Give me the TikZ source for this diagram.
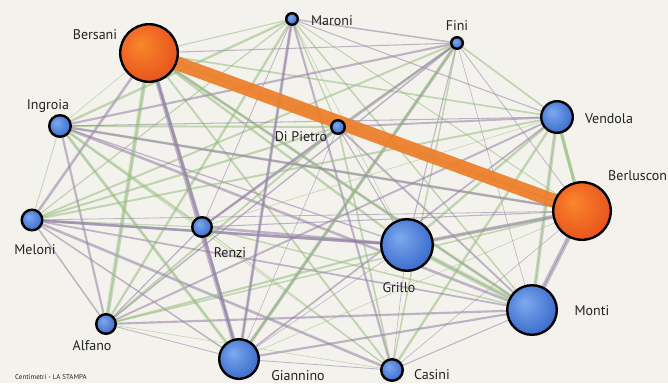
\documentclass[tikz,border=0pt]{standalone}
\usepackage{fontspec}
\setmainfont{PT Sans}
\definecolor{paper}{RGB}{244,242,236}
\definecolor{egreen}{RGB}{150,188,128}
\definecolor{epurple}{RGB}{145,128,165}
\definecolor{orangeedge}{RGB}{238,125,40}
\definecolor{bluein}{RGB}{125,170,240}
\definecolor{blueout}{RGB}{45,95,195}
\definecolor{orin}{RGB}{250,135,45}
\definecolor{orout}{RGB}{225,60,20}
\definecolor{labelc}{RGB}{35,35,35}
\pgfdeclareradialshading{blueshade}{\pgfpoint{-8bp}{8bp}}{color(0bp)=(bluein); color(30bp)=(blueout!85!bluein); color(50bp)=(blueout)}
\pgfdeclareradialshading{redshade}{\pgfpoint{-8bp}{8bp}}{color(0bp)=(orin); color(30bp)=(orout!70!orin); color(50bp)=(orout)}
\pgfdeclarelayer{paperlayer}
\pgfdeclarelayer{edgelayer}
\pgfsetlayers{paperlayer,edgelayer,main}
\begin{document}
\begin{tikzpicture}[x=1pt,y=-1pt,
  ball/.style={circle,draw=black,line width=2.4pt,inner sep=0pt,minimum size=#1},
  blueball/.style={ball=#1,shading=blueshade},
  redball/.style={ball=#1,shading=redshade},
  lab/.style={text=labelc,font=\fontsize{14}{14}\selectfont,inner sep=0pt,anchor=base},
  thin edge/.style={line width=#1,opacity=0.55},
  thick edge/.style={line width=#1,opacity=0.5}
]
\useasboundingbox (0,0) rectangle (668,383);
\begin{pgfonlayer}{paperlayer}
  \fill[paper] (0,0) rectangle (668,383);
\end{pgfonlayer}

% nodes
\node[redball=57.6pt]  (n1)  at (149,53)  {};
\node[blueball=11.6pt] (n2)  at (292,19)  {};
\node[blueball=11.6pt] (n3)  at (457,43)  {};
\node[blueball=21.6pt] (n4)  at (60,126)  {};
\node[blueball=13.6pt] (n5)  at (338,127) {};
\node[blueball=31.6pt] (n6)  at (557,117) {};
\node[redball=57.6pt]  (n7)  at (582,211) {};
\node[blueball=20.6pt] (n8)  at (32,220)  {};
\node[blueball=19.6pt] (n9)  at (202,227) {};
\node[blueball=51.6pt] (n10) at (407,245) {};
\node[blueball=49.6pt] (n11) at (532,310) {};
\node[blueball=19.6pt] (n12) at (106,324) {};
\node[blueball=39.6pt] (n13) at (239,359) {};
\node[blueball=21.6pt] (n14) at (392,370) {};

% labels
\node[lab] (l1)  at (95,39.5)  {Bersani};
\node[lab] (l2)  at (332,25)   {Maroni};
\node[lab] (l3)  at (457,30)   {Fini};
\node[lab] (l4)  at (48,109)   {Ingroia};
\node[lab] (l5)  at (301,141)  {Di Pietro};
\node[lab] (l6)  at (609,123)  {Vendola};
\node[lab,anchor=base west] (l7) at (608,180) {Berluscon};
\node[lab] (l8)  at (35,254)   {Meloni};
\node[lab] (l9)  at (230,257)  {Renzi};
\node[lab] (l10) at (399,292)  {Grillo};
\node[lab] (l11) at (592,315)  {Monti};
\node[lab] (l12) at (92,350)   {Alfano};
\node[lab] (l13) at (298,380)  {Giannino};
\node[lab] (l14) at (432,379)  {Casini};
\node[lab,font=\fontsize{7}{7}\selectfont,anchor=base west] (foot) at (15,379) {Centimetri - LA STAMPA};

% edges
\begin{pgfonlayer}{edgelayer}
\pgfmathsetseed{4242}
\foreach \i in {1,...,13}{
  \pgfmathtruncatemacro{\js}{\i+1}
  \foreach \j in {\js,...,14}{
    \pgfmathrandominteger{\w}{0}{9}
    \pgfmathrandominteger{\c}{0}{1}
    \pgfmathsetmacro{\lw}{0.6+0.22*\w}
    \ifnum\c=0 \def\ec{egreen}\else\def\ec{epurple}\fi
    \draw[thin edge=\lw pt, draw=\ec] (n\i) -- (n\j);
  }
}
\draw[thick edge=4.5pt, epurple] (n1) -- (n13);
\draw[thick edge=4pt, egreen] (n1) -- (n12);
\draw[thick edge=3pt, egreen] (n1) -- (n11);
\draw[thick edge=3.5pt, egreen] (n6) -- (n7);
\draw[thick edge=3.5pt, egreen] (n6) -- (n11);
\draw[thick edge=4.5pt, epurple] (n7) -- (n11);
\draw[thick edge=3.5pt, epurple] (n7) -- (n10);
\draw[thick edge=4.5pt, egreen] (n10) -- (n11);
\draw[thick edge=3.5pt, egreen] (n13) -- (n3);
\draw[thick edge=3pt, epurple] (n13) -- (n2);
\draw[thick edge=3pt, egreen] (n4) -- (n13);
\draw[thick edge=2.5pt, epurple] (n8) -- (n10);
\draw[thick edge=2.5pt, epurple] (n4) -- (n7);
\draw[line width=14pt, orangeedge, opacity=0.92] (n1.center) -- (n7.center);
\end{pgfonlayer}
\end{tikzpicture}
\end{document}
